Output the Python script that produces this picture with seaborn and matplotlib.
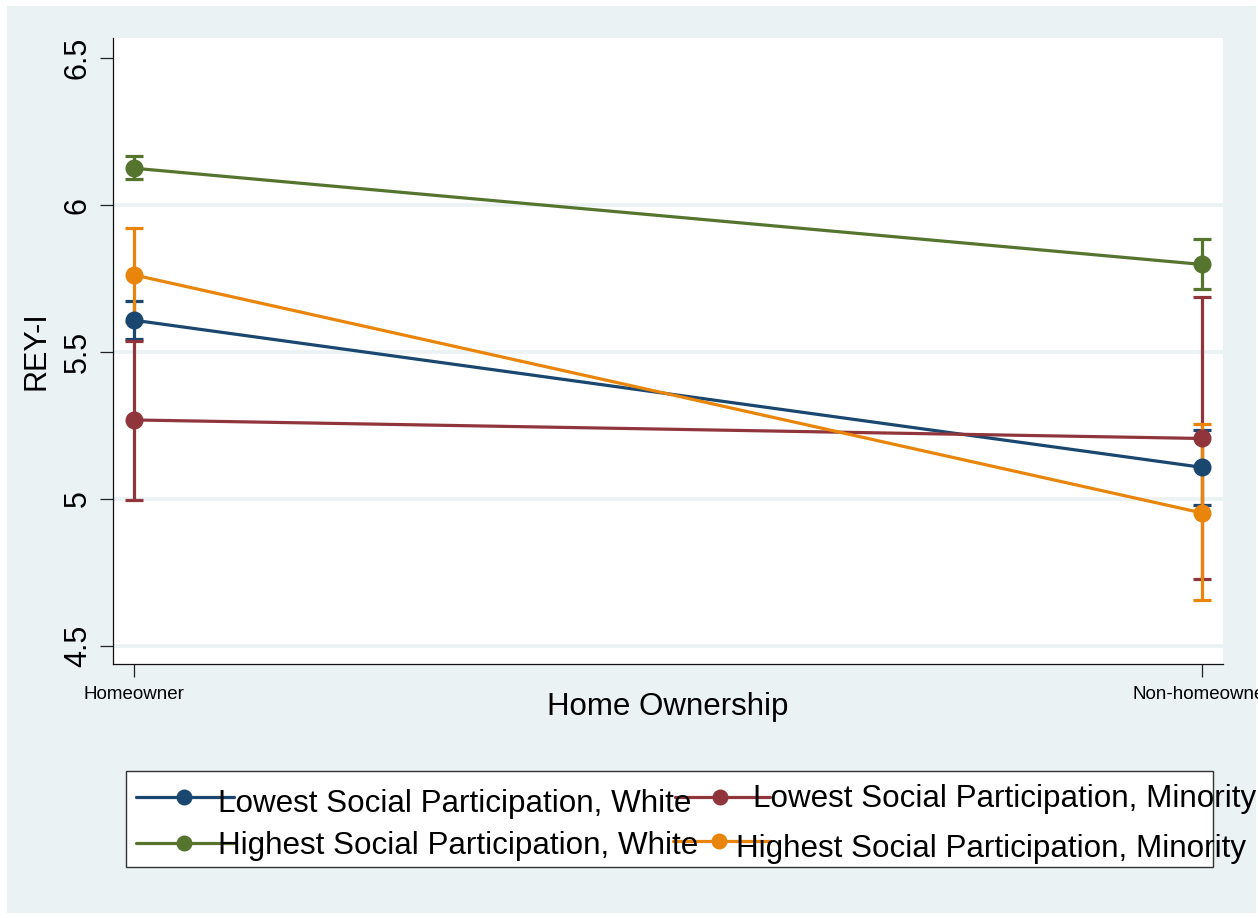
import numpy as np
import pandas as pd
import matplotlib
matplotlib.use("Agg")
import matplotlib.pyplot as plt
from matplotlib.patches import Rectangle
from matplotlib.lines import Line2D
import seaborn as sns

# ---------------- data ----------------
categories = ["Homeowner", "Non-homeowner"]
groups = ["Lowest Social Participation, White",
          "Lowest Social Participation, Minority",
          "Highest Social Participation, White",
          "Highest Social Participation, Minority"]
low_white_mean = [5.608, 5.108]
low_white_lo = [5.543, 4.981]
low_white_hi = [5.673, 5.235]
low_min_mean = [5.269, 5.206]
low_min_lo = [4.997, 4.729]
low_min_hi = [5.538, 5.688]
high_white_mean = [6.125, 5.798]
high_white_lo = [6.087, 5.713]
high_white_hi = [6.168, 5.883]
high_min_mean = [5.762, 4.953]
high_min_lo = [5.603, 4.656]
high_min_hi = [5.921, 5.254]
y_ticks = [4.5, 5, 5.5, 6, 6.5]
y_ticklabels = ["4.5", "5", "5.5", "6", "6.5"]

colors = ["#1A476F", "#90353B", "#55752F", "#E8850A"]
means = [low_white_mean, low_min_mean, high_white_mean, high_min_mean]
los = [low_white_lo, low_min_lo, high_white_lo, high_min_lo]
his = [low_white_hi, low_min_hi, high_white_hi, high_min_hi]

rows = []
for g, m in zip(groups, means):
    for c, v in zip(categories, m):
        rows.append({"Home Ownership": c, "REY-I": v, "group": g})
df = pd.DataFrame(rows)

# ---------------- figure ----------------
sns.set_style("ticks")
plt.rcParams["font.family"] = ["Liberation Sans", "DejaVu Sans"]
plt.rcParams["text.color"] = "black"
plt.rcParams["axes.labelcolor"] = "black"
plt.rcParams["xtick.labelcolor"] = "black"
plt.rcParams["ytick.labelcolor"] = "black"

W, H = 1258, 918
BG = "#EAF2F3"
fig = plt.figure(figsize=(W / 100, H / 100), dpi=100, facecolor="white")


def fx(x):
    return x / W


def fy(y):
    return 1 - y / H


fig.add_artist(Rectangle((fx(7), fy(913)), fx(1256) - fx(7), fy(6) - fy(913),
                         transform=fig.transFigure, facecolor=BG, edgecolor="none", zorder=0))

ax = fig.add_axes([fx(113), fy(664), (1223 - 113) / W, (664 - 38) / H])
ax.set_facecolor("white")

x = np.arange(len(categories))
for m, lo, hi, col in zip(means, los, his, colors):
    m = np.array(m); lo = np.array(lo); hi = np.array(hi)
    ax.errorbar(x, m, yerr=[m - lo, hi - m], fmt="none", ecolor=col,
                elinewidth=2.3, capsize=6.5, capthick=2.3, zorder=2)

sns.lineplot(data=df, x="Home Ownership", y="REY-I", hue="group", hue_order=groups,
             palette=colors, marker="o", markersize=13, markeredgewidth=0,
             linewidth=2.3, sort=False, legend=False, ax=ax, zorder=3)

ax.set_xlim(-0.02, 1.02)
ax.set_ylim(4.439, 6.568)
ax.set_xticks(x)
ax.set_xticklabels(categories, fontsize=13.5, color="black")
ax.set_yticks(y_ticks)
ax.set_yticklabels(y_ticklabels, rotation=90, va="center", fontsize=22, color="black")
ax.grid(axis="y", color=BG, linewidth=2.6)
ax.set_axisbelow(True)
ax.get_ygridlines()[-1].set_visible(False)

for s in ["top", "right"]:
    ax.spines[s].set_visible(False)
for s in ["left", "bottom"]:
    ax.spines[s].set_color("#111111")
    ax.spines[s].set_linewidth(0.9)
ax.tick_params(axis="y", length=9.5, width=0.9, color="#222222", pad=5)
ax.tick_params(axis="x", length=9.5, width=0.9, color="#222222", pad=6)

ax.set_xlabel("Home Ownership", fontsize=22.5, color="black")
ax.xaxis.set_label_coords(0.5, (664 - 715) / 626)
ax.xaxis.label.set_verticalalignment("baseline")
ax.set_ylabel("REY-I", fontsize=22, color="black")
ax.yaxis.set_label_coords((36.5 - 113) / 1110, 0.5)
ax.yaxis.label.set_verticalalignment("center")

# ---------------- legend (Stata-style box) ----------------
fig.add_artist(Rectangle((fx(126), fy(867)), fx(1213) - fx(126), fy(771) - fy(867),
                         transform=fig.transFigure, facecolor="white",
                         edgecolor="#333333", linewidth=1.0, zorder=5))
handle_specs = [  # (line x0, x1, y, marker x, text x, baseline)
    (136, 234, 797, 184, 218, 812),
    (675, 770, 797, 720, 753, 807),
    (136, 234, 843, 184, 218, 854),
    (673, 770, 841, 719, 736, 857),
]
for (x0, x1, yy, mx, tx, tb), col, lab in zip(handle_specs, colors, groups):
    fig.add_artist(Line2D([fx(x0), fx(x1)], [fy(yy), fy(yy)], transform=fig.transFigure,
                          color=col, linewidth=2.3, zorder=6))
    fig.add_artist(Line2D([fx(mx)], [fy(yy)], transform=fig.transFigure, marker="o",
                          markersize=11.5, markeredgewidth=0, color=col, zorder=6))
    fig.text(fx(tx), fy(tb), lab, fontsize=22.6, ha="left", va="baseline", color="black", zorder=7)

fig.savefig("out.png", dpi=100, facecolor="white")
